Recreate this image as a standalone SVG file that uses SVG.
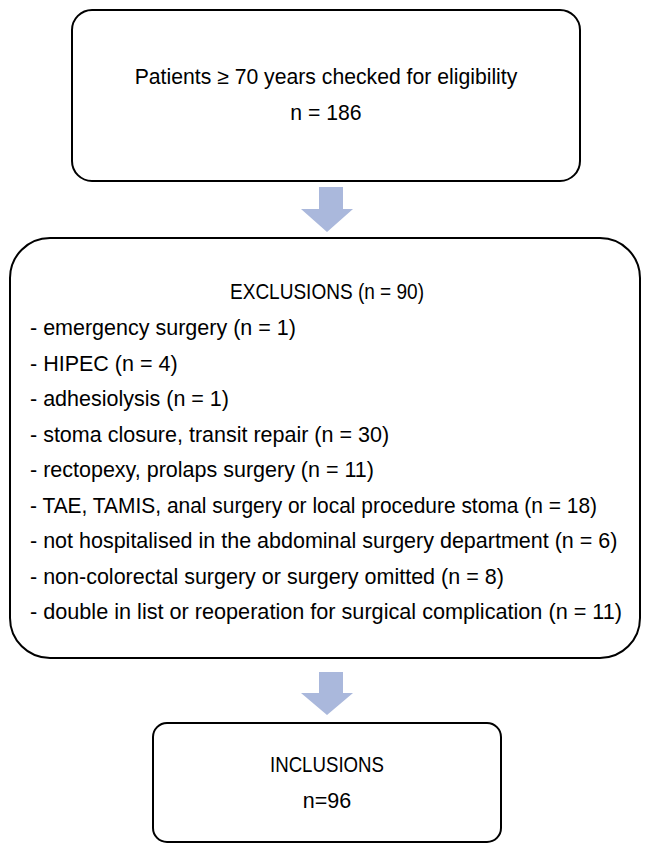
<svg xmlns="http://www.w3.org/2000/svg" width="650" height="853" viewBox="0 0 650 853">
<style>
.box{fill:#fff;stroke:#000;stroke-width:2}
.t{font-family:"Liberation Sans",Arial,sans-serif;font-size:21.5px;fill:#000}
.c{text-anchor:middle}
.arr{fill:#aab8dc}
</style>
<rect width="650" height="853" fill="#fff"/>
<g id="node-eligibility">
<rect class="box" x="72" y="10" width="508" height="171" rx="20"/>
<text class="t c" x="326" y="84" style="font-size:21.2px">Patients ≥ 70 years checked for eligibility</text>
<text class="t c" x="326" y="120" style="font-size:21.2px">n = 186</text>
</g>
<g id="node-exclusions">
<rect class="box" x="10" y="238" width="630" height="420" rx="40"/>
<text class="t c" x="327" y="299" textLength="194" lengthAdjust="spacingAndGlyphs">EXCLUSIONS (n = 90)</text>
<text class="t" x="30" y="335">- emergency surgery (n = 1)</text>
<text class="t" x="30" y="370.5">- HIPEC (n = 4)</text>
<text class="t" x="30" y="406">- adhesiolysis (n = 1)</text>
<text class="t" x="30" y="441.5">- stoma closure, transit repair (n = 30)</text>
<text class="t" x="30" y="477">- rectopexy, prolaps surgery (n = 11)</text>
<text class="t" x="30" y="512.5" textLength="567" lengthAdjust="spacingAndGlyphs">- TAE, TAMIS, anal surgery or local procedure stoma (n = 18)</text>
<text class="t" x="30" y="548">- not hospitalised in the abdominal surgery department (n = 6)</text>
<text class="t" x="30" y="583.5">- non-colorectal surgery or surgery omitted (n = 8)</text>
<text class="t" x="30" y="619" textLength="592" lengthAdjust="spacingAndGlyphs">- double in list or reoperation for surgical complication (n = 11)</text>
</g>
<g id="node-inclusions">
<rect class="box" x="153" y="723" width="348" height="119" rx="14"/>
<text class="t c" x="327" y="772" textLength="114" lengthAdjust="spacingAndGlyphs">INCLUSIONS</text>
<text class="t c" x="327" y="808">n=96</text>
</g>
<g id="connectors">
<polygon class="arr" points="319,187 343,187 343,209 353,209 327,232 301,209 319,209"/>
<polygon class="arr" points="319,672 343,672 343,693 353,693 327,715 301,693 319,693"/>
</g>
</svg>
